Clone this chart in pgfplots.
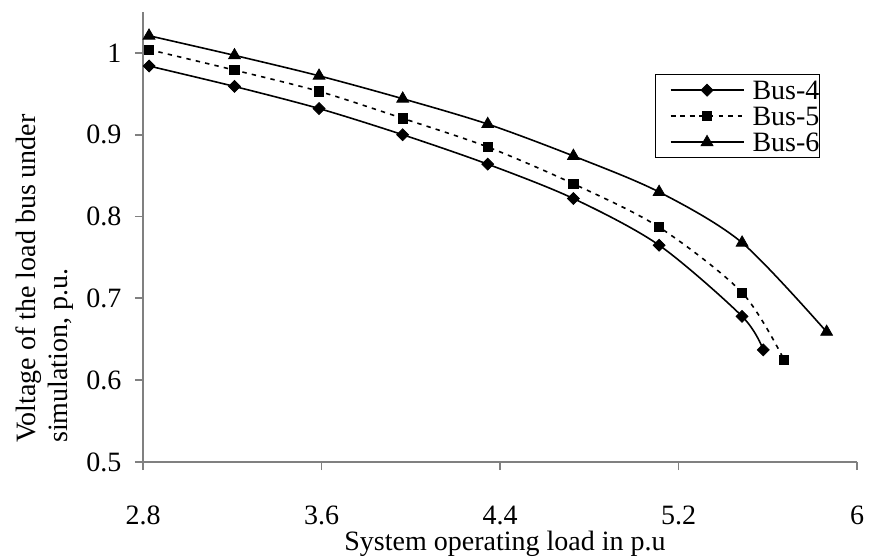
\documentclass[border=0pt]{standalone}
\usepackage{fontspec}
\setmainfont{Liberation Serif}
\usepackage{pgfplots}
\pgfplotsset{compat=1.18}
\definecolor{axgray}{RGB}{128,128,128}
\begin{document}
\fontsize{14}{16}\selectfont
\begin{tikzpicture}
\begin{axis}[
  scale only axis, width=357pt, height=225pt,
  xmin=2.8, xmax=6, ymin=0.5, ymax=1.05,
  axis x line=bottom, axis y line=left,
  axis line style={-, draw=axgray, line width=0.9pt},
  tick style={draw=axgray, line width=0.9pt},
  major tick length=4pt, tick align=outside,
  xtick={2.8,3.6,4.4,5.2,6},
  ytick={0.5,0.6,0.7,0.8,0.9,1},
  /pgf/number format/assume math mode=true,
  ticklabel style={font=\fontsize{14}{16}\selectfont},
  xticklabel style={inner sep=0pt, yshift=-17.8pt},
  yticklabel style={xshift=-2pt},
  xlabel={System operating load in p.u},
  xlabel style={at={(axis description cs:0.507,-0.196)}, anchor=base, inner sep=0pt, font=\fontsize{14}{16}\selectfont},
  ylabel={Voltage of the load bus under\\simulation, p.u.},
  ylabel style={at={(axis description cs:-0.179,0.042)}, anchor=north west, align=left, inner sep=0pt, font=\fontsize{14}{16}\selectfont},
  legend style={at={(axis description cs:0.717,0.862)}, anchor=north west, draw=black, line width=0.6pt,
    inner xsep=0pt, inner ysep=1.25pt, row sep=0pt,
    nodes={inner xsep=0pt, inner ysep=2pt, text height=9pt, text depth=0pt},
    font=\fontsize{14}{16}\selectfont},
  legend cell align=left,
  legend image code/.code={\path[draw=none,fill=none] (0pt,0pt) -- (48.5pt,0pt);
    \draw[mark repeat=2,mark phase=2] plot coordinates {(7.5pt,0pt) (25.75pt,0pt) (44pt,0pt)};},
  every axis plot/.append style={black, line width=0.8pt, smooth},
]
\addplot[mark=square*, mark size=2.1pt, mark options={rotate=45, solid, line width=0.4pt}] coordinates {
(2.827,0.984) (3.21,0.959) (3.589,0.932) (3.964,0.900) (4.345,0.864) (4.729,0.822) (5.113,0.765) (5.485,0.678) (5.58,0.637)};
\addlegendentry{Bus-4}
\addplot[dash pattern=on 2.2pt off 2.6pt, mark=square*, mark size=2.3pt, mark options={solid, line width=0.4pt}] coordinates {
(2.827,1.004) (3.21,0.979) (3.589,0.953) (3.964,0.920) (4.345,0.885) (4.729,0.840) (5.113,0.787) (5.485,0.707) (5.673,0.625)};
\addlegendentry{Bus-5}
\addplot[mark=triangle*, mark size=3.4pt, mark options={solid, line width=0.4pt}] coordinates {
(2.827,1.021) (3.21,0.997) (3.589,0.972) (3.964,0.944) (4.345,0.913) (4.729,0.874) (5.113,0.830) (5.485,0.768) (5.864,0.659)};
\addlegendentry{Bus-6}
\end{axis}
\pgfresetboundingbox
\path[use as bounding box] ([shift={(-71.5pt,-47.5pt)}]current axis.south west) rectangle ([shift={(9pt,6pt)}]current axis.north east);
\end{tikzpicture}
\end{document}
